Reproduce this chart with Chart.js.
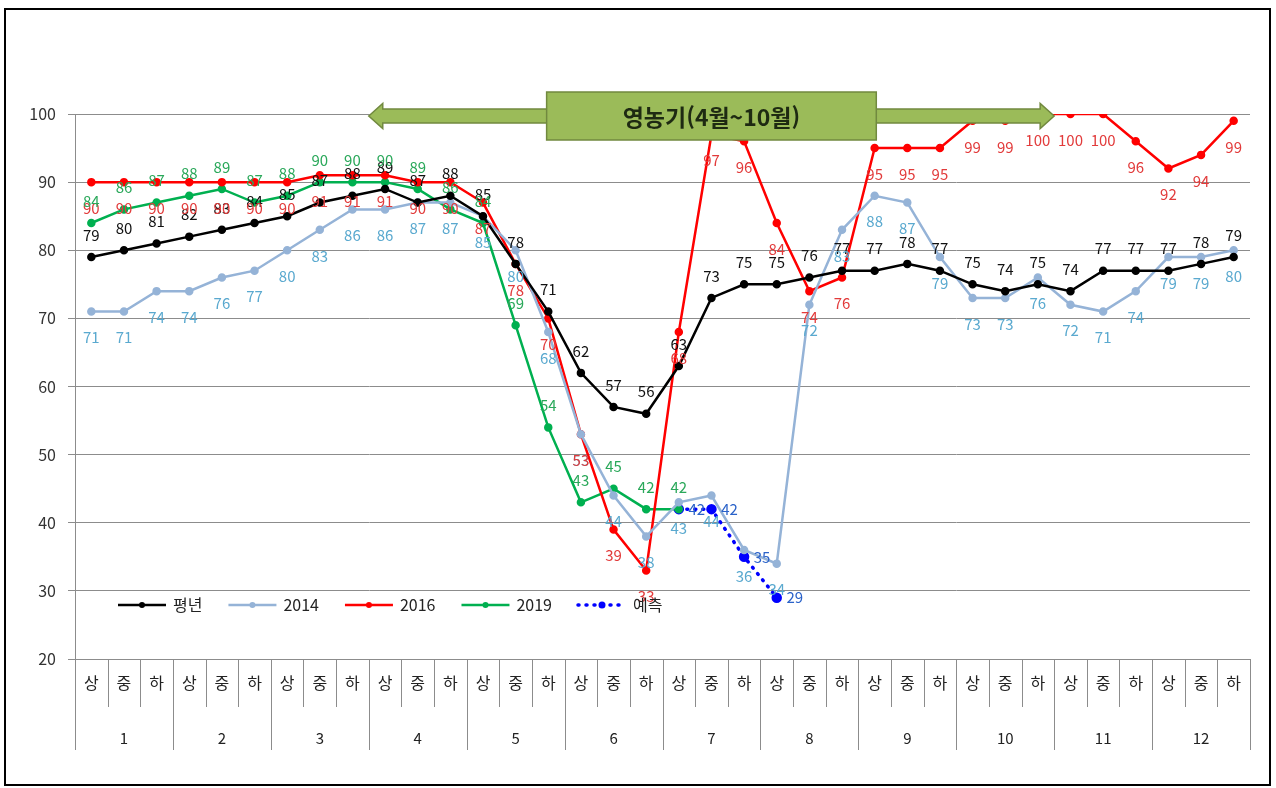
<!DOCTYPE html>
<html lang="ko">
<head>
    <meta charset="UTF-8">
    <title>저수율 비교</title>
    <script src="https://cdn.jsdelivr.net/npm/chart.js"></script>
    <style>
        html, body { margin: 0; padding: 0; background: #fff; }
        #wrap { position: relative; width: 1276px; height: 788px; }
        #frame {
            position: absolute; left: 4px; top: 8px; width: 1267px; height: 778px;
            border: 2px solid #000; box-sizing: border-box; pointer-events: none;
        }
    </style>
</head>
<body>
<div id="wrap">
    <canvas id="chart" width="1276" height="788"></canvas>
    <div id="frame"></div>
</div>
<script>
    // 순별 구분 (상/중/하) 과 월
    const months = ['1', '2', '3', '4', '5', '6', '7', '8', '9', '10', '11', '12'];
    const decades = ['상', '중', '하'];
    const subLabels = [];
    months.forEach(function () { decades.forEach(function (d) { subLabels.push(d); }); });

    // 저수율 (%)
    const normalYear = [79, 80, 81, 82, 83, 84, 85, 87, 88, 89, 87, 88,
                        85, 78, 71, 62, 57, 56, 63, 73, 75, 75, 76, 77,
                        77, 78, 77, 75, 74, 75, 74, 77, 77, 77, 78, 79];
    const year2014 = [71, 71, 74, 74, 76, 77, 80, 83, 86, 86, 87, 87,
                      85, 80, 68, 53, 44, 38, 43, 44, 36, 34, 72, 83,
                      88, 87, 79, 73, 73, 76, 72, 71, 74, 79, 79, 80];
    const year2016 = [90, 90, 90, 90, 90, 90, 90, 91, 91, 91, 90, 90,
                      87, 78, 70, 53, 39, 33, 68, 97, 96, 84, 74, 76,
                      95, 95, 95, 99, 99, 100, 100, 100, 96, 92, 94, 99];
    const year2019 = [84, 86, 87, 88, 89, 87, 88, 90, 90, 90, 89, 86,
                      84, 69, 54, 43, 45, 42, 42, null, null, null, null, null,
                      null, null, null, null, null, null, null, null, null, null, null, null];
    const forecast = [null, null, null, null, null, null, null, null, null, null, null, null,
                      null, null, null, null, null, null, 42, 42, 35, 29, null, null,
                      null, null, null, null, null, null, null, null, null, null, null, null];

    const periodText = '영농기(4월~10월)';
    const FONT = "'Noto Sans CJK KR', 'Noto Sans', sans-serif";

    // 구분선 (상중하 / 월)
    const separatorPlugin = {
        id: 'separators',
        afterDraw: function (chart) {
            const ctx = chart.ctx, x = chart.scales.x, area = chart.chartArea;
            const w = x.getPixelForValue(1) - x.getPixelForValue(0);
            ctx.save();
            ctx.strokeStyle = '#8c8c8c';
            ctx.lineWidth = 1;
            for (let i = 0; i <= subLabels.length; i++) {
                const px = Math.round(x.getPixelForValue(0) - w / 2 + i * w) + 0.5;
                ctx.beginPath();
                ctx.moveTo(px, area.bottom);
                ctx.lineTo(px, i % 3 === 0 ? area.bottom + 91 : area.bottom + 48);
                ctx.stroke();
            }
            ctx.restore();
        }
    };

    // 데이터 레이블
    const valueLabelPlugin = {
        id: 'valueLabels',
        afterDatasetsDraw: function (chart) {
            const ctx = chart.ctx;
            ctx.save();
            ctx.font = '15px ' + FONT;
            ctx.textAlign = 'center';
            ctx.textBaseline = 'middle';
            chart.data.datasets.forEach(function (ds, i) {
                const meta = chart.getDatasetMeta(i);
                ctx.fillStyle = ds.labelColor;
                meta.data.forEach(function (pt, j) {
                    const v = ds.data[j];
                    if (v === null || v === undefined) return;
                    ctx.fillText(String(v), pt.x + ds.labelDx, pt.y + ds.labelDy);
                });
            });
            ctx.restore();
        }
    };

    // 영농기 화살표 + 상자
    const periodPlugin = {
        id: 'period',
        afterDraw: function (chart) {
            const ctx = chart.ctx, x = chart.scales.x, area = chart.chartArea;
            const w = x.getPixelForValue(1) - x.getPixelForValue(0);
            const left = x.getPixelForValue(9) - w / 2;    // 4월 상
            const right = x.getPixelForValue(29) + w / 2;  // 10월 하
            const cy = area.top + 2;
            const sh = 7, hh = 12.5, hl = 14;
            ctx.save();
            ctx.fillStyle = '#9bbb59';
            ctx.strokeStyle = '#71893f';
            ctx.lineWidth = 1.5;
            ctx.beginPath();
            ctx.moveTo(left, cy);
            ctx.lineTo(left + hl, cy - hh);
            ctx.lineTo(left + hl, cy - sh);
            ctx.lineTo(right - hl, cy - sh);
            ctx.lineTo(right - hl, cy - hh);
            ctx.lineTo(right, cy);
            ctx.lineTo(right - hl, cy + hh);
            ctx.lineTo(right - hl, cy + sh);
            ctx.lineTo(left + hl, cy + sh);
            ctx.lineTo(left + hl, cy + hh);
            ctx.closePath();
            ctx.fill();
            ctx.stroke();

            const bc = x.getPixelForValue(19);
            const bw = 10.1 * w;
            const bx = bc - bw / 2, by = area.top - 22, bh = 48;
            ctx.fillRect(bx, by, bw, bh);
            ctx.strokeRect(bx, by, bw, bh);
            ctx.fillStyle = '#1e2a12';
            ctx.font = 'bold 23px ' + FONT;
            ctx.textAlign = 'center';
            ctx.textBaseline = 'middle';
            ctx.fillText(periodText, bc, by + bh / 2 + 1);
            ctx.restore();
        }
    };

    // 차트 안쪽 범례
    const legendPlugin = {
        id: 'innerLegend',
        afterDraw: function (chart) {
            const ctx = chart.ctx, area = chart.chartArea;
            let px = area.left + 43;
            const py = area.bottom - 54;
            ctx.save();
            ctx.font = '16px ' + FONT;
            ctx.textBaseline = 'middle';
            chart.data.datasets.forEach(function (ds) {
                ctx.strokeStyle = ds.borderColor;
                ctx.lineWidth = ds.borderWidth;
                ctx.lineCap = ds.borderCapStyle || 'butt';
                ctx.setLineDash(ds.borderDash || []);
                ctx.beginPath();
                ctx.moveTo(px, py);
                ctx.lineTo(px + 48, py);
                ctx.stroke();
                ctx.setLineDash([]);
                ctx.fillStyle = ds.pointBackgroundColor;
                ctx.beginPath();
                ctx.arc(px + 24, py, ds.pointRadius, 0, Math.PI * 2);
                ctx.fill();
                ctx.fillStyle = '#222';
                ctx.fillText(ds.label, px + 55, py);
                px += 55 + ctx.measureText(ds.label).width + 26;
            });
            ctx.restore();
        }
    };

    function lineSet(label, data, color, labelColor, dx, dy) {
        return {
            label: label, data: data, xAxisID: 'x', yAxisID: 'y',
            borderColor: color, backgroundColor: color,
            pointBackgroundColor: color, pointBorderColor: color,
            borderWidth: 2.5, pointRadius: 3, pointHoverRadius: 3,
            tension: 0, fill: false, spanGaps: false,
            labelColor: labelColor, labelDx: dx, labelDy: dy
        };
    }

    const forecastSet = lineSet('예측', forecast, '#0000ff', '#2a62c9', 18, 0);
    forecastSet.borderDash = [1, 7];
    forecastSet.borderWidth = 3.5;
    forecastSet.borderCapStyle = 'round';
    forecastSet.pointRadius = 3.5;
    forecastSet.pointHoverRadius = 3.5;

    new Chart(document.getElementById('chart').getContext('2d'), {
        type: 'line',
        data: {
            labels: subLabels,
            datasets: [
                lineSet('평년', normalYear, '#000000', '#111111', 0, -22),
                lineSet('2014', year2014, '#95b3d7', '#5aa9cf', 0, 26),
                lineSet('2016', year2016, '#ff0000', '#e23b3b', 0, 26),
                lineSet('2019', year2019, '#00b050', '#2aa85a', 0, -22),
                forecastSet
            ]
        },
        options: {
            responsive: false,
            animation: false,
            layout: { padding: { top: 114, right: 26, bottom: 38, left: 0 } },
            plugins: {
                legend: { display: false },
                tooltip: { enabled: false }
            },
            scales: {
                x: {
                    type: 'category',
                    labels: subLabels,
                    offset: true,
                    grid: { display: false, drawTicks: false, tickLength: 0 },
                    border: { display: false },
                    ticks: { padding: 14, autoSkip: false, maxRotation: 0, color: '#222', font: { family: FONT, size: 16 } },
                    afterFit: function (s) { s.height = 46; }
                },
                x2: {
                    type: 'category',
                    labels: months,
                    offset: true,
                    position: 'bottom',
                    grid: { display: false, drawTicks: false, tickLength: 0 },
                    border: { display: false },
                    ticks: { padding: 24, autoSkip: false, maxRotation: 0, color: '#222', font: { family: FONT, size: 15 } },
                    afterFit: function (s) { s.height = 45; }
                },
                y: {
                    min: 20, max: 100,
                    ticks: { stepSize: 10, padding: 12, color: '#333', font: { family: FONT, size: 16 } },
                    grid: { color: '#8c8c8c', tickLength: 7 },
                    border: { color: '#8c8c8c' },
                    afterFit: function (s) { s.width = 75; }
                }
            }
        },
        plugins: [separatorPlugin, valueLabelPlugin, periodPlugin, legendPlugin]
    });
</script>
</body>
</html>
